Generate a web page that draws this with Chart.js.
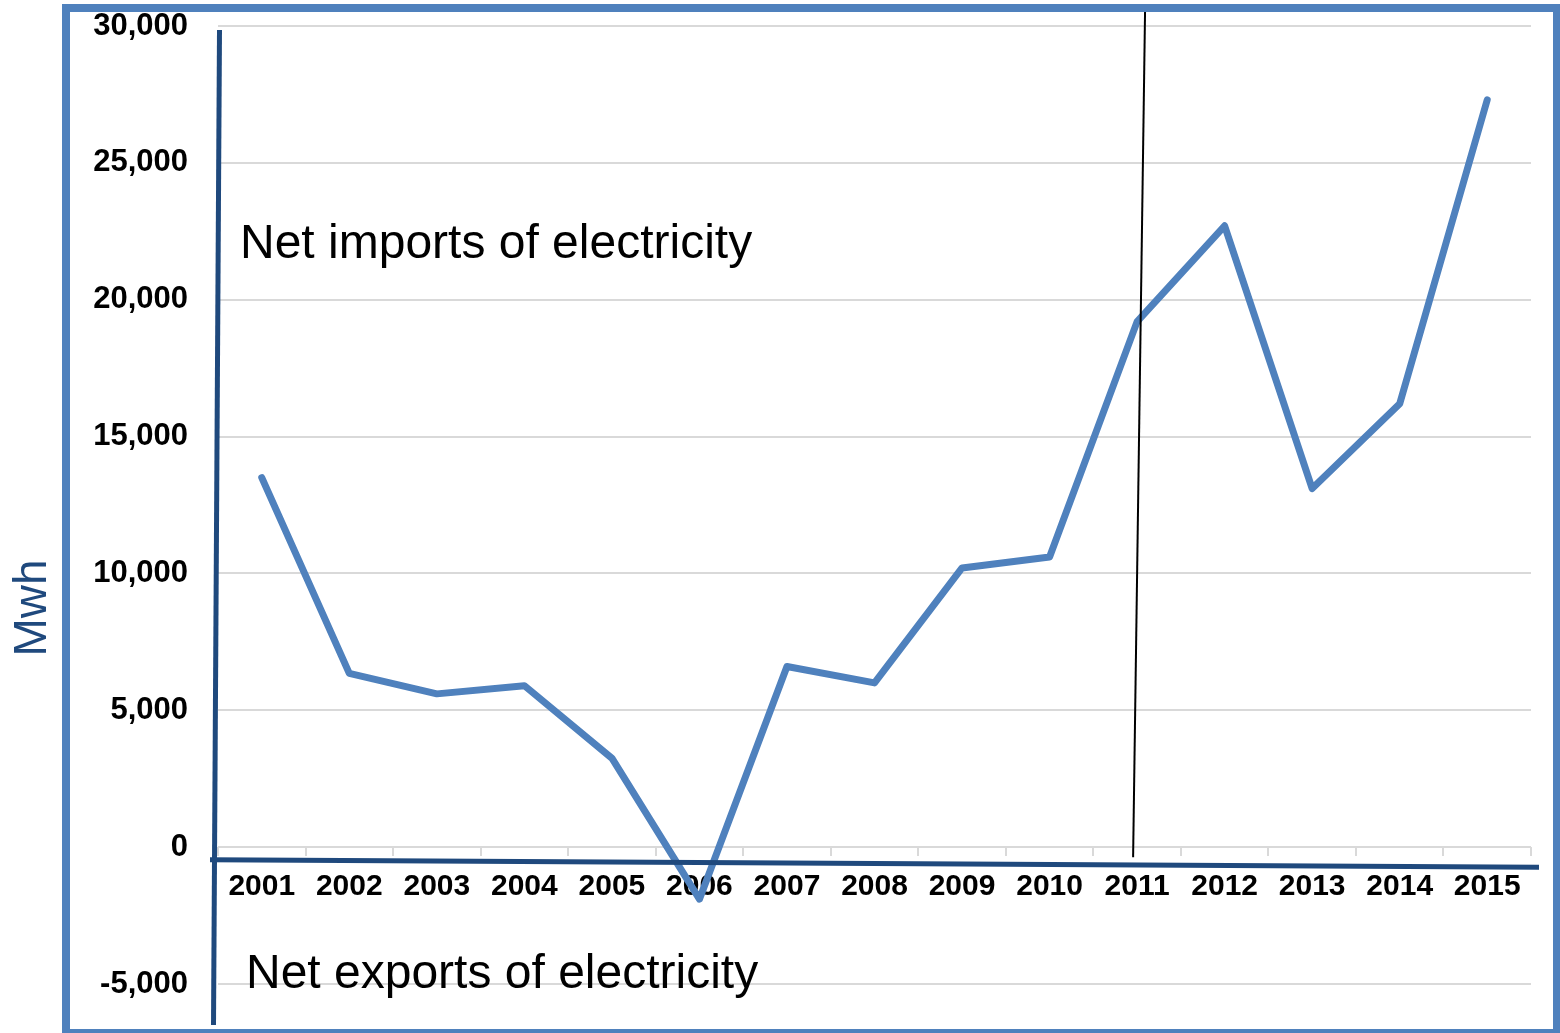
<!DOCTYPE html>
<html>
<head>
<meta charset="utf-8">
<title>Net imports of electricity</title>
<script src="https://cdn.jsdelivr.net/npm/chart.js"></script>
<style>
  html, body { margin: 0; padding: 0; background: #fff; }
  canvas { display: block; }
</style>
</head>
<body>
<canvas id="netChart" width="1560" height="1033"></canvas>
<script>
// values (Mwh)
const years = ['2001', '2002', '2003', '2004', '2005', '2006', '2007', '2008',
               '2009', '2010', '2011', '2012', '2013', '2014', '2015'];
const netImports = [13500, 6350, 5600, 5900, 3250, -1900, 6600, 6000,
                    10200, 10600, 19200, 22700, 13100, 16200, 27300];
const yTicks = [-5000, 0, 5000, 10000, 15000, 20000, 25000, 30000];

const yTitle = 'Mwh';
const importsNote = 'Net imports of electricity';
const exportsNote = 'Net exports of electricity';

const NAVY = '#1F497D';
const BLUE = '#4F81BD';
const GRID = '#D9D9D9';
const FONT = '"Liberation Sans", Arial, sans-serif';

// frame, hand drawn lines and the two notes
const decorations = {
  id: 'decorations',
  afterDraw(chart) {
    const ctx = chart.ctx;
    const area = chart.chartArea;
    const x = chart.scales.x;
    const y = chart.scales.y;
    const zero = y.getPixelForValue(0);
    ctx.save();

    // notes
    ctx.fillStyle = '#000';
    ctx.font = '48px ' + FONT;
    ctx.textBaseline = 'alphabetic';
    ctx.textAlign = 'left';
    ctx.fillText(importsNote, area.left + 22, 258);
    ctx.fillText(exportsNote, area.left + 28, 988);

    // y axis title
    ctx.save();
    ctx.fillStyle = NAVY;
    ctx.font = '46px ' + FONT;
    ctx.textAlign = 'center';
    ctx.textBaseline = 'middle';
    ctx.translate(33, 608);
    ctx.rotate(-Math.PI / 2);
    ctx.fillText(yTitle, 0, 0);
    ctx.restore();

    // thin black marker at 2011
    const x2011 = x.getPixelForValue(years.indexOf('2011'));
    ctx.strokeStyle = '#000';
    ctx.lineWidth = 2;
    ctx.beginPath();
    ctx.moveTo(x2011 + 8, 8);
    ctx.lineTo(x2011 - 4, zero + 10);
    ctx.stroke();

    // navy axes drawn over the chart
    ctx.strokeStyle = NAVY;
    ctx.lineWidth = 5;
    ctx.lineCap = 'butt';
    ctx.beginPath();
    ctx.moveTo(area.left + 1.5, 30);
    ctx.lineTo(area.left - 4.5, 1025);
    ctx.stroke();
    ctx.beginPath();
    ctx.moveTo(210, zero + 12.5);
    ctx.lineTo(area.right + 8, zero + 20);
    ctx.stroke();

    // outer frame
    ctx.strokeStyle = BLUE;
    ctx.lineWidth = 8;
    ctx.strokeRect(66, 8, 1491, 1025);
    ctx.restore();
  }
};

new Chart(document.getElementById('netChart'), {
  type: 'line',
  data: {
    labels: years,
    datasets: [{
      label: 'Net imports',
      data: netImports,
      borderColor: BLUE,
      backgroundColor: BLUE,
      borderWidth: 7,
      borderCapStyle: 'round',
      borderJoinStyle: 'round',
      pointRadius: 0,
      tension: 0,
      fill: false
    }]
  },
  options: {
    responsive: false,
    animation: false,
    layout: { padding: { top: 26, right: 29, bottom: 49, left: 0 } },
    plugins: {
      legend: { display: false },
      tooltip: { enabled: false }
    },
    scales: {
      x: {
        position: { y: 0 },
        offset: true,
        grid: {
          offset: true,
          drawOnChartArea: false,
          drawTicks: true,
          tickLength: 9,
          color: GRID,
          lineWidth: 2
        },
        border: { display: false },
        ticks: {
          color: '#000',
          padding: 13,
          maxRotation: 0,
          autoSkip: false,
          font: { family: FONT, size: 30, weight: 'bold' }
        }
      },
      y: {
        min: -5000,
        max: 30000,
        afterFit(scale) { scale.width = 218; },
        afterBuildTicks(scale) { scale.ticks = yTicks.map(v => ({ value: v })); },
        grid: {
          color: GRID,
          lineWidth: 2,
          drawTicks: true,
          tickLength: 30,
          tickColor: 'rgba(0,0,0,0)'
        },
        border: { display: false },
        ticks: {
          color: '#000',
          padding: 0,
          font: { family: FONT, size: 31, weight: 'bold' },
          callback: v => v.toLocaleString('en-US')
        }
      }
    }
  },
  plugins: [decorations]
});
</script>
</body>
</html>
